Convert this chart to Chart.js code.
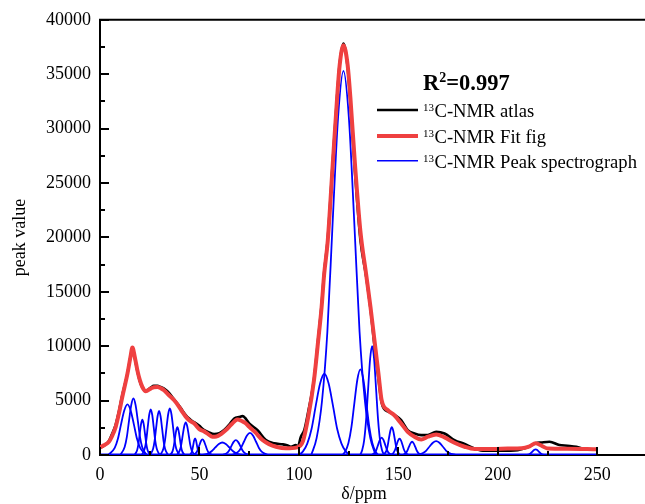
<!DOCTYPE html>
<html>
<head>
<meta charset="utf-8">
<script src="https://cdn.jsdelivr.net/npm/chart.js@4/dist/chart.umd.min.js"></script>
<style>
html,body{margin:0;padding:0;background:#fff;}
#wrap{width:645px;height:504px;position:relative;}
</style>
</head>
<body>
<div id="wrap"><canvas id="c" width="645" height="504"></canvas></div>
<script>
// ---- data (ppm, peak value) ----
const xTickValues = [0, 50, 100, 150, 200, 250];
const yTickValues = [0, 5000, 10000, 15000, 20000, 25000, 30000, 35000, 40000];
const seriesNames = ['C-NMR atlas', 'C-NMR Fit fig', 'C-NMR Peak spectrograph'];
const r2Text = '0.997';

const atlasCurve = [[0,650],[2,850],[4.5,1300],[6,1900],[7.9,2800],[9.5,4000],[11.2,5500],[13.8,7500],[15.3,9000],[16.3,9800],[17.5,8900],[18.8,7700],[20,6800],[21.3,6200],[23,5900],[25.5,6200],[27,6350],[28.9,6350],[30.5,6250],[32.2,6100],[34.7,5700],[37.3,5100],[39.5,4600],[41.4,4100],[43,3700],[44.8,3350],[46.5,3100],[47.5,3000],[49.8,2700],[52.4,2290],[54.5,2100],[57.4,1920],[60,2000],[62.4,2290],[65,2800],[67.5,3360],[70,3500],[71.7,3570],[73,3400],[75,2900],[79.2,2290],[83.4,1370],[87.6,1070],[91.8,980],[94,900],[96,760],[98.5,915],[99.3,700],[101,1680],[102.7,2290],[104.7,4000],[107.6,7000],[109.7,10700],[111.4,13800],[112.7,16800],[114.5,19900],[117,26900],[119.2,33000],[120.5,36000],[122.4,37820],[124.5,35600],[125.9,32400],[128.2,26000],[130.9,19800],[133.8,16400],[136,13400],[138,10000],[140,7000],[141.6,4800],[143,4200],[144.7,4000],[148,3700],[151.4,3200],[154.7,2290],[158.1,1980],[161.5,1830],[164.8,1830],[169,2130],[173.2,1980],[178.2,1370],[183.3,1010],[188.3,610],[193.4,390],[198.4,390],[201.5,390],[210,450],[215,700],[219,1070],[222,1150],[226,1220],[231,915],[235,850],[239.5,760],[244.6,520],[249.6,520]];

const fitCurve = [[0,700],[2,900],[4.5,1220],[6,1700],[7.9,2590],[9.5,3800],[11.2,5330],[13.8,7470],[15.3,9000],[16.3,9880],[17.5,9000],[18.8,7780],[20,6900],[21.3,6250],[23,5860],[25.5,6100],[27,6230],[28.9,6250],[30.5,6150],[32.2,5950],[34.7,5490],[37.3,5030],[39.5,4500],[41.4,3960],[43,3550],[44.8,3200],[46.5,3000],[47.5,2880],[49.8,2400],[52,2200],[54.5,1900],[56.5,1680],[58.5,1700],[61,1950],[63.3,2290],[66,2800],[69.1,3260],[71.5,3100],[73,2950],[75,2600],[78,2100],[81.7,1370],[85,1000],[88.5,760],[93.5,610],[99,700],[102,1250],[104.7,3500],[107.6,6900],[109.7,10520],[111.4,13570],[112.7,16620],[114.5,19670],[117,26690],[119.2,32790],[120.5,35840],[122.4,37670],[124.5,35840],[125.9,32790],[128.2,26690],[130.9,20600],[133.8,16620],[136,13570],[138,10520],[140,7470],[141.6,5030],[144.7,4120],[148,3650],[151.4,2900],[154.7,2130],[158.1,1680],[161.5,1430],[164.8,1680],[169,1890],[173.2,1620],[178.2,1130],[183.3,760],[188.3,550],[198,550],[205,600],[212,620],[216,800],[219,1070],[222,850],[225,600],[235,580],[250,520]];

const peakBaseline = [[0,0],[250,0]];

const peakCurves = [
 [[4.2,0],[7.4,650],[9.0,1490],[10.6,2840],[12.2,4090],[13.8,4650],[15.4,4090],[17.0,2840],[18.6,1490],[20.2,650],[23.4,0]],
 [[10.2,0],[12.4,730],[13.5,1660],[14.6,3170],[15.7,4580],[16.8,5200],[17.9,4580],[19.0,3170],[20.1,1660],[21.2,730],[23.4,0]],
 [[17.4,0],[18.7,460],[19.35,1040],[20.0,1980],[20.65,2860],[21.3,3250],[21.95,2860],[22.6,1980],[23.25,1040],[23.9,460],[25.2,0]],
 [[21.0,0],[22.5,590],[23.25,1340],[24.0,2560],[24.75,3700],[25.5,4200],[26.25,3700],[27.0,2560],[27.75,1340],[28.5,590],[30.0,0]],
 [[25.2,0],[26.7,570],[27.45,1300],[28.2,2470],[28.95,3560],[29.7,4050],[30.45,3560],[31.2,2470],[31.95,1300],[32.7,570],[34.2,0]],
 [[30.3,0],[31.9,600],[32.7,1370],[33.5,2610],[34.3,3770],[35.1,4280],[35.9,3770],[36.7,2610],[37.5,1370],[38.3,600],[39.9,0]],
 [[35.3,0],[36.5,360],[37.1,820],[37.7,1560],[38.3,2240],[38.9,2550],[39.5,2240],[40.1,1560],[40.7,820],[41.3,360],[42.5,0]],
 [[38.6,0],[40.1,420],[40.85,960],[41.6,1830],[42.35,2640],[43.1,3000],[43.85,2640],[44.6,1830],[45.35,960],[46.1,420],[47.6,0]],
 [[45.1,0],[46.0,210],[46.45,490],[46.9,930],[47.35,1350],[47.8,1530],[48.25,1350],[48.7,930],[49.15,490],[49.6,210],[50.5,0]],
 [[46.7,0],[48.3,200],[49.1,460],[49.9,870],[50.7,1260],[51.5,1430],[52.3,1260],[53.1,870],[53.9,460],[54.7,200],[56.3,0]],
 [[51.0,0],[54.5,160],[56.25,370],[58.0,700],[59.75,1010],[61.5,1150],[63.25,1010],[65.0,700],[66.75,370],[68.5,160],[72.0,0]],
 [[61.7,0],[63.9,190],[65.0,440],[66.1,840],[67.2,1210],[68.3,1370],[69.4,1210],[70.5,840],[71.6,440],[72.7,190],[74.9,0]],
 [[66.4,0],[69.4,290],[70.9,650],[72.4,1240],[73.9,1800],[75.4,2040],[76.9,1800],[78.4,1240],[79.9,650],[81.4,290],[84.4,0]],
 [[99.9,0],[102.05,330],[104.2,1050],[106.35,2390],[108.5,4560],[110.65,6570],[112.8,7470],[114.95,6570],[117.1,4560],[119.25,2390],[121.4,1050],[123.55,330],[125.7,0]],
 [[106.2,0],[108.9,1550],[111.6,4940],[114.3,11300],[117.0,21530],[119.7,31060],[122.4,35300],[125.1,31060],[127.8,21530],[130.5,11300],[133.2,4940],[135.9,1550],[138.6,0]],
 [[121.9,0],[123.4,350],[124.9,1100],[126.4,2560],[127.9,4800],[129.4,6940],[130.9,7870],[132.4,6940],[133.9,4800],[135.4,2560],[136.9,1100],[138.4,350],[139.9,0]],
 [[130.8,0],[131.8,440],[132.8,1350],[133.8,3250],[134.8,6070],[135.8,8820],[136.8,10000],[137.8,8820],[138.8,6070],[139.8,3250],[140.8,1350],[141.8,440],[142.8,0]],
 [[136.5,0],[138.2,220],[139.05,520],[139.9,980],[140.75,1410],[141.6,1600],[142.45,1410],[143.3,980],[144.15,520],[145.0,220],[146.7,0]],
 [[142.5,0],[143.9,360],[144.6,820],[145.3,1560],[146.0,2250],[146.7,2560],[147.4,2250],[148.1,1560],[148.8,820],[149.5,360],[150.9,0]],
 [[146.1,0],[147.6,210],[148.35,480],[149.1,920],[149.85,1320],[150.6,1500],[151.35,1320],[152.1,920],[152.85,480],[153.6,210],[155.1,0]],
 [[152.1,0],[153.7,170],[154.5,390],[155.3,740],[156.1,1070],[156.9,1220],[157.7,1070],[158.5,740],[159.3,390],[160.1,170],[161.7,0]],
 [[159.1,0],[162.4,180],[164.05,410],[165.7,780],[167.35,1130],[169,1280],[170.65,1130],[172.3,780],[173.95,410],[175.6,180],[178.9,0]],
 [[214.2,0],[215.8,70],[216.6,170],[217.4,320],[218.2,460],[219,520],[219.8,460],[220.6,320],[221.4,170],[222.2,70],[223.8,0]]
];

// ---- styles ----
const FONT = '"Liberation Serif", "Times New Roman", serif';
const BLACK = '#000000', RED = '#ef4040', BLUE = '#0000ff';

const datasets = [];
datasets.push({label: seriesNames[1], data: fitCurve, borderColor: RED, borderWidth: 4, order: 0});
datasets.push({label: seriesNames[0], data: atlasCurve, borderColor: BLACK, borderWidth: 2.6, order: 1});
peakCurves.forEach((pc) => datasets.push({label: seriesNames[2], data: pc, borderColor: BLUE, borderWidth: 1.8, order: 2}));
datasets.push({label: seriesNames[2], data: peakBaseline, borderColor: BLUE, borderWidth: 3, order: 2});
datasets.forEach(d => { d.pointRadius = 0; d.fill = false; d.cubicInterpolationMode = 'monotone'; d.borderJoinStyle = 'round'; d.borderCapStyle = 'butt'; });

const frame = {
  id: 'frame',
  beforeDatasetsDraw(chart) {
    const {ctx, chartArea: a} = chart;
    ctx.save();
    ctx.strokeStyle = BLACK; ctx.lineWidth = 2;
    ctx.beginPath();
    ctx.moveTo(a.left - 1, a.top); ctx.lineTo(a.right, a.top);
    ctx.moveTo(a.left, a.top); ctx.lineTo(a.left, a.bottom + 1);
    ctx.moveTo(a.left - 1, a.bottom); ctx.lineTo(a.right, a.bottom);
    ctx.stroke();
    ctx.restore();
  },
  afterDatasetsDraw(chart) {
    const {ctx, chartArea: a, scales: {x, y}} = chart;
    ctx.save();
    ctx.strokeStyle = BLACK; ctx.lineWidth = 2;
    ctx.beginPath();
    for (let v = 0; v <= 250; v += 25) {
      const px = Math.round(x.getPixelForValue(v));
      const len = (v % 50 === 0) ? 8 : 4;
      ctx.moveTo(px, a.bottom); ctx.lineTo(px, a.bottom - len);
    }
    for (let v = 0; v <= 40000; v += 2500) {
      const py = Math.round(y.getPixelForValue(v));
      const len = (v % 5000 === 0) ? 9 : 5;
      ctx.moveTo(a.left, py); ctx.lineTo(a.left + len, py);
    }
    ctx.stroke();
    ctx.restore();
  },
  afterDraw(chart) {
    const {ctx, chartArea: a} = chart;
    ctx.save();
    ctx.fillStyle = BLACK;
    // axis titles
    ctx.font = '18px ' + FONT;
    ctx.textAlign = 'center'; ctx.textBaseline = 'alphabetic';
    ctx.fillText('δ/ppm', 364, 499);
    ctx.save();
    ctx.translate(25, (a.top + a.bottom) / 2);
    ctx.rotate(-Math.PI / 2);
    ctx.fillText('peak value', 0, 0);
    ctx.restore();
    // R^2
    ctx.textAlign = 'left';
    let xx = 423;
    ctx.font = 'bold 22.5px ' + FONT;
    ctx.fillText('R', xx, 89.5); xx += ctx.measureText('R').width;
    ctx.font = 'bold 14px ' + FONT;
    ctx.fillText('2', xx, 81.5); xx += ctx.measureText('2').width;
    ctx.font = 'bold 22.5px ' + FONT;
    ctx.fillText('=' + r2Text, xx, 89.5);
    // legend rows
    const rows = [
      {name: seriesNames[0], color: BLACK, w: 2.6, ly: 110, by: 117},
      {name: seriesNames[1], color: RED, w: 4, ly: 136, by: 142.5},
      {name: seriesNames[2], color: BLUE, w: 1.6, ly: 160.7, by: 168}
    ];
    rows.forEach(r => {
      ctx.strokeStyle = r.color; ctx.lineWidth = r.w;
      ctx.beginPath(); ctx.moveTo(377, r.ly); ctx.lineTo(418, r.ly); ctx.stroke();
      let tx = 423;
      ctx.font = '11px ' + FONT;
      ctx.fillText('13', tx, r.by - 6); tx += ctx.measureText('13').width + 0.5;
      ctx.font = '18.6px ' + FONT;
      ctx.fillText(r.name, tx, r.by);
    });
    ctx.restore();
  }
};

new Chart(document.getElementById('c'), {
  type: 'line',
  data: {datasets},
  options: {
    responsive: false,
    animation: false,
    devicePixelRatio: 1,
    layout: {padding: {top: 16, right: 0, left: 0, bottom: 0}},
    plugins: {legend: {display: false}, tooltip: {enabled: false}},
    scales: {
      x: {
        type: 'linear', min: 0, max: 274,
        afterBuildTicks: s => { s.ticks = xTickValues.map(v => ({value: v})); },
        afterFit: s => { s.height = 49; },
        grid: {display: false, drawTicks: false},
        border: {display: false},
        ticks: {color: BLACK, font: {family: FONT, size: 18}, padding: 9, maxRotation: 0, autoSkip: false}
      },
      y: {
        type: 'linear', min: 0, max: 40000,
        afterBuildTicks: s => { s.ticks = yTickValues.map(v => ({value: v})); },
        afterFit: s => { s.width = 100; },
        grid: {display: false, drawTicks: false},
        border: {display: false},
        ticks: {color: BLACK, font: {family: FONT, size: 18}, padding: 9, autoSkip: false, callback: v => String(v)}
      }
    }
  },
  plugins: [frame]
});
</script>
</body>
</html>
